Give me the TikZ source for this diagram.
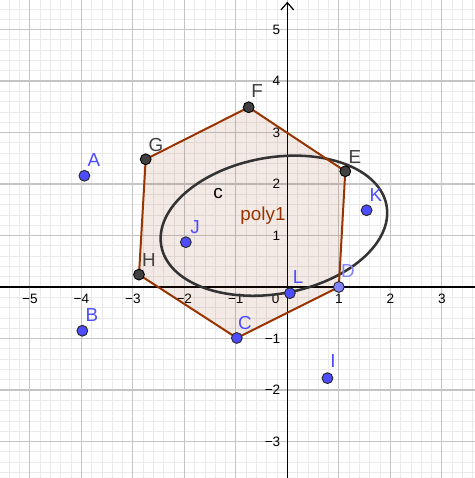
\documentclass[tikz,border=0pt]{standalone}
\usepackage{fontspec}
\setmainfont{Liberation Sans}
\usetikzlibrary{arrows.meta}
\definecolor{ggbrown}{HTML}{993300}
\definecolor{ggblue}{HTML}{4D4DFF}
\definecolor{gglight}{HTML}{8484FF}
\definecolor{ggdark}{HTML}{404040}
\definecolor{ggcurve}{HTML}{333333}
\definecolor{majorgrid}{HTML}{C4C4C4}
\definecolor{minorgrid}{HTML}{EAEAEA}
\tikzset{
  bluept/.style={circle, fill=ggblue, draw=black!85, line width=0.5pt, minimum size=0.21cm, inner sep=0pt},
  lightpt/.style={circle, fill=gglight, draw=black!85, line width=0.5pt, minimum size=0.21cm, inner sep=0pt},
  darkpt/.style={circle, fill=ggdark, draw=black, line width=0.5pt, minimum size=0.21cm, inner sep=0pt},
  bluelbl/.style={text=ggblue, font=\fontsize{10.4}{12}\selectfont, inner sep=0pt},
  lightlbl/.style={text=gglight, font=\fontsize{10.4}{12}\selectfont, inner sep=0pt},
  darklbl/.style={text=ggdark, font=\fontsize{10.4}{12}\selectfont, inner sep=0pt},
  xtick/.style={font=\fontsize{7.5}{9}\selectfont, inner sep=0pt},
  ytick/.style={font=\fontsize{7.5}{9}\selectfont, inner sep=0pt, anchor=east},
  edge/.style={ggbrown, line width=1.1pt, line join=round}
}
\begin{document}
\begin{tikzpicture}[x=1cm,y=1cm]
\useasboundingbox (-5.579,-3.709) rectangle (3.644,5.573);
\clip (-5.579,-3.709) rectangle (3.644,5.573);
\fill[white] (-5.579,-3.709) rectangle (3.644,5.573);
% grid
\draw[minorgrid, line width=0.4pt, step=0.2] (-5.8,-3.8) grid (3.8,5.8);
\draw[majorgrid, line width=0.6pt, step=1] (-5.8,-3.8) grid (3.8,5.8);
% axes
\coordinate (xl) at (-5.579,0);
\coordinate (xr) at (3.644,0);
\coordinate (yb) at (0,-3.709);
\coordinate (yt) at (0,5.54);
\draw[black, line width=0.7pt] (xl) -- (xr);
\draw[black, line width=0.7pt, -{Straight Barb[length=4pt,width=7pt]}] (yb) -- (yt);
% tick labels
\foreach \v/\t in {-5/−5,-4/−4,-3/−3,-2/−2,-1/−1,1/1,2/2,3/3}
  \node[xtick] (xt\v) at (\v,-0.233) {\t};
\node[xtick] (xt0) at (-0.225,-0.233) {0};
\foreach \v/\t in {5/5,4/4,3/3,2/2,1/1,-1/−1,-2/−2,-3/−3}
  \node[ytick] (yt\v) at (-0.13,\v) {\t};
% points (coordinates)
\coordinate (pC) at (-0.98,-0.99);
\coordinate (pD) at (1.0,0.0);
\coordinate (pE) at (1.126,2.247);
\coordinate (pF) at (-0.75,3.49);
\coordinate (pG) at (-2.75,2.48);
\coordinate (pH) at (-2.88,0.24);
% polygon fill
\fill[ggbrown, fill opacity=0.1] (pH) -- (pG) -- (pF) -- (pE) -- (pD) -- (pC) -- cycle;
% ellipse c
\draw[ggcurve, line width=1.4pt, rotate around={10.1:(-0.26,1.19)}] (-0.26,1.19) ellipse [x radius=2.222, y radius=1.324];
% polygon edges
\draw[edge] (pH) -- (pG) -- (pF) -- (pE) -- (pD) -- (pC) -- cycle;
% points
\node[bluept] (A) at (-3.94,2.16) {};
\node[bluept] (B) at (-3.98,-0.85) {};
\node[bluept] (C) at (pC) {};
\node[lightpt] (D) at (pD) {};
\node[darkpt] (E) at (pE) {};
\node[darkpt] (F) at (pF) {};
\node[darkpt] (G) at (pG) {};
\node[darkpt] (H) at (pH) {};
\node[bluept] (I) at (0.78,-1.77) {};
\node[bluept] (J) at (-1.97,0.87) {};
\node[bluept] (K) at (1.54,1.49) {};
\node[bluept] (L) at (0.05,-0.12) {};
% labels
\node[bluelbl] (lA) at (-3.754,2.466) {A};
\node[bluelbl] (lB) at (-3.792,-0.544) {B};
\node[bluelbl] (lC) at (-0.821,-0.699) {C};
\node[lightlbl] (lD) at (1.178,0.311) {D};
\node[darklbl] (lE) at (1.314,2.524) {E};
\node[darklbl] (lF) at (-0.588,3.806) {F};
\node[darklbl] (lG) at (-2.549,2.757) {G};
\node[darklbl] (lH) at (-2.686,0.524) {H};
\node[bluelbl] (lI) at (0.887,-1.437) {I};
\node[bluelbl] (lJ) at (-1.792,1.165) {J};
\node[bluelbl] (lK) at (1.722,1.786) {K};
\node[bluelbl] (lL) at (0.208,0.194) {L};
\node[text=black, font=\fontsize{10.4}{12}\selectfont, inner sep=0pt] (lc) at (-1.346,1.806) {c};
\node[text=ggbrown, font=\fontsize{10.4}{12}\selectfont, inner sep=0pt] (lpoly) at (-0.472,1.379) {poly1};
\end{tikzpicture}
\end{document}
